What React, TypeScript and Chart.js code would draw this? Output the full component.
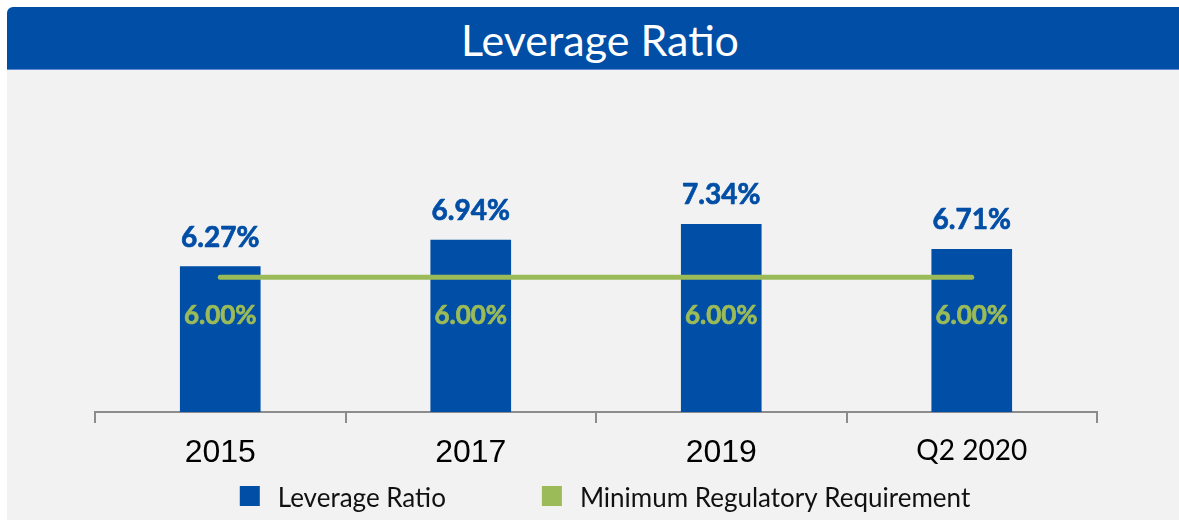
import React, { useEffect, useRef } from 'react';
import { Chart, registerables } from 'chart.js';

Chart.register(...registerables);

// ---- data ----
const chartTitle = 'Leverage Ratio';
const categories = ['2015', '2017', '2019', 'Q2 2020'];
const leverageRatio = [6.27, 6.94, 7.34, 6.71];
const minimumRequirement = [6.0, 6.0, 6.0, 6.0];
const seriesNames = ['Leverage Ratio', 'Minimum Regulatory Requirement'];

const BLUE = '#004EA6';
const GREEN = '#9BBB59';

const valueLabels = {
  id: 'valueLabels',
  afterDatasetsDraw(chart: any, _args: any, opts: any) {
    const ctx = chart.ctx;
    ctx.save();
    ctx.textAlign = 'center';
    ctx.textBaseline = 'alphabetic';
    ctx.lineJoin = 'round';
    chart.data.datasets.forEach((ds: any, di: number) => {
      const meta = chart.getDatasetMeta(di);
      const isLine = ds.type === 'line';
      ctx.font = isLine ? `bold ${opts.lineFont}px Lato` : `bold ${opts.barFont}px Lato`;
      ctx.fillStyle = isLine ? GREEN : BLUE;
      ctx.strokeStyle = isLine ? GREEN : BLUE;
      ctx.lineWidth = opts.embolden;
      meta.data.forEach((el: any, i: number) => {
        const txt = Number(ds.data[i]).toFixed(2) + '%';
        const y = isLine ? el.y + opts.lineOffset : el.y - opts.barOffset;
        ctx.fillText(txt, el.x, y);
        ctx.strokeText(txt, el.x, y);
      });
    });
    ctx.restore();
  },
};

const legendRow = {
  id: 'legendRow',
  afterDraw(chart: any, _args: any, opts: any) {
    const ctx = chart.ctx;
    ctx.save();
    ctx.font = `${opts.fontSize}px Lato`;
    ctx.textBaseline = 'alphabetic';
    ctx.textAlign = 'left';
    const items = chart.data.datasets.map((ds: any) => ({
      text: ds.label,
      color: ds.type === 'line' ? ds.borderColor : ds.backgroundColor,
    }));
    const widths = items.map((it: any) => ctx.measureText(it.text).width);
    let total = 0;
    items.forEach((_: any, i: number) => {
      total += opts.box + opts.gap + widths[i];
    });
    total += opts.spacing * (items.length - 1);
    let x = opts.centerX - total / 2;
    items.forEach((it: any, i: number) => {
      ctx.fillStyle = it.color;
      ctx.fillRect(x, opts.boxTop, opts.box, opts.box);
      ctx.fillStyle = '#111';
      ctx.fillText(it.text, x + opts.box + opts.gap, opts.baseline);
      x += opts.box + opts.gap + widths[i] + opts.spacing;
    });
    ctx.restore();
  },
};

export default function App() {
  const canvasRef = useRef<HTMLCanvasElement | null>(null);

  useEffect(() => {
    if (!canvasRef.current) return;
    Chart.defaults.font.family = 'Lato, sans-serif';
    const chart = new Chart(canvasRef.current, {
      type: 'bar',
      data: {
        labels: categories,
        datasets: [
          {
            type: 'bar',
            label: seriesNames[0],
            data: leverageRatio,
            backgroundColor: BLUE,
            barThickness: 80,
            order: 2,
          } as any,
          {
            type: 'line',
            label: seriesNames[1],
            data: minimumRequirement,
            borderColor: GREEN,
            backgroundColor: GREEN,
            borderWidth: 5,
            borderCapStyle: 'round',
            pointRadius: 0,
            pointHoverRadius: 0,
            tension: 0,
            order: 1,
          } as any,
        ],
      },
      options: {
        responsive: false,
        animation: false,
        devicePixelRatio: 1,
        layout: { padding: { left: 95, right: 82, top: 80, bottom: 48 } },
        plugins: {
          legend: { display: false },
          tooltip: { enabled: false },
          title: { display: false },
          valueLabels: { barFont: 28, lineFont: 26, barOffset: 20, lineOffset: 47, embolden: 0.7 },
          legendRow: { fontSize: 26, box: 20, gap: 18, spacing: 96, centerX: 605, boxTop: 416, baseline: 436.5 },
        } as any,
        scales: {
          x: {
            offset: true,
            afterFit: (axis: any) => {
              axis.height = 60;
            },
            border: { display: true, color: '#8c8c8c', width: 2 },
            grid: {
              offset: true,
              drawOnChartArea: false,
              drawTicks: true,
              tickLength: 11,
              color: '#8c8c8c',
              lineWidth: 2,
            },
            ticks: {
              color: '#000',
              padding: 11,
              maxRotation: 0,
              autoSkip: false,
              font: (c: any) =>
                c.index === 3
                  ? { family: 'Lato, sans-serif', size: 28 }
                  : { family: '"Liberation Sans", Arial, sans-serif', size: 32 },
            },
          },
          y: {
            display: false,
            min: 2.59,
            max: 9.223,
          },
        },
      },
      plugins: [valueLabels, legendRow],
    });
    return () => chart.destroy();
  }, []);

  return (
    <div
      style={{
        position: 'fixed',
        left: 0,
        top: 0,
        width: 1179,
        height: 520,
        background: '#ffffff',
        overflow: 'hidden',
      }}
    >
      <div
        style={{
          position: 'absolute',
          left: 7,
          top: 7,
          width: 1172,
          height: 62,
          background: BLUE,
          borderTopLeftRadius: 6,
          borderBottom: '1px solid #5d8ad0',
        }}
      />
      <div
        style={{
          position: 'absolute',
          left: 0,
          top: 14,
          width: 1200,
          textAlign: 'center',
          color: '#ffffff',
          fontFamily: 'Lato, sans-serif',
          fontSize: 43,
          lineHeight: 1.2,
          whiteSpace: 'nowrap',
        }}
      >
        {chartTitle}
      </div>
      <div
        style={{
          position: 'absolute',
          left: 7,
          top: 70,
          width: 1172,
          height: 450,
          background: '#f2f2f2',
        }}
      />
      <canvas
        ref={canvasRef}
        width={1179}
        height={450}
        style={{ position: 'absolute', left: 0, top: 70, width: 1179, height: 450 }}
      />
    </div>
  );
}
